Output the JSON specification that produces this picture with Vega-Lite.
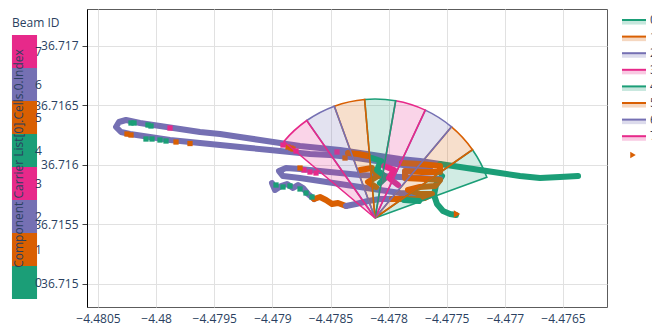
{
  "$schema": "https://vega.github.io/schema/vega-lite/v6.json",
  "width": 520,
  "height": 298,
  "autosize": {"type": "none"},
  "padding": {"left": 87, "top": 9, "right": 45, "bottom": 19},
  "background": "white",
  "config": {
    "view": {"stroke": "#5c5c5c", "strokeWidth": 1},
    "font": "Open Sans",
    "axis": {"labelFont": "Open Sans", "labelFontSize": 12, "labelColor": "#2a3f5f", "titleFont": "Open Sans", "titleFontSize": 12, "titleFontWeight": "normal", "titleColor": "#2a3f5f", "gridColor": "#e1e1e1", "gridWidth": 1},
    "legend": {"labelFont": "Open Sans", "labelFontSize": 12, "labelColor": "#2a3f5f", "titleFont": "Open Sans", "titleFontSize": 12, "titleFontWeight": "normal", "titleColor": "#2a3f5f", "padding": 0}
  },
  "datasets": {
    "track": [
      {"seg": 1, "i": 0, "beam": 6, "lon": -4.4776441, "lat": 36.7159747},
      {"seg": 1, "i": 1, "beam": 6, "lon": -4.4778161, "lat": 36.7159915},
      {"seg": 1, "i": 2, "beam": 6, "lon": -4.4779881, "lat": 36.7160168},
      {"seg": 1, "i": 3, "beam": 6, "lon": -4.4781602, "lat": 36.7160420},
      {"seg": 1, "i": 4, "beam": 6, "lon": -4.4783322, "lat": 36.7160672},
      {"seg": 1, "i": 5, "beam": 6, "lon": -4.4785043, "lat": 36.7160840},
      {"seg": 1, "i": 6, "beam": 6, "lon": -4.4786763, "lat": 36.7160924},
      {"seg": 1, "i": 7, "beam": 6, "lon": -4.4788484, "lat": 36.7161092},
      {"seg": 1, "i": 8, "beam": 6, "lon": -4.4790204, "lat": 36.7161260},
      {"seg": 1, "i": 9, "beam": 6, "lon": -4.4791924, "lat": 36.7161428},
      {"seg": 1, "i": 10, "beam": 6, "lon": -4.4793645, "lat": 36.7161596},
      {"seg": 1, "i": 11, "beam": 6, "lon": -4.4795365, "lat": 36.7161764},
      {"seg": 1, "i": 12, "beam": 6, "lon": -4.4797086, "lat": 36.7161932},
      {"seg": 1, "i": 13, "beam": 6, "lon": -4.4798806, "lat": 36.7162100},
      {"seg": 1, "i": 14, "beam": 6, "lon": -4.4800527, "lat": 36.7162352},
      {"seg": 1, "i": 15, "beam": 6, "lon": -4.4802247, "lat": 36.7162604},
      {"seg": 1, "i": 16, "beam": 6, "lon": -4.4803021, "lat": 36.7162773},
      {"seg": 1, "i": 17, "beam": 6, "lon": -4.4803451, "lat": 36.7163193},
      {"seg": 1, "i": 18, "beam": 6, "lon": -4.4803193, "lat": 36.7163613},
      {"seg": 1, "i": 19, "beam": 6, "lon": -4.4802591, "lat": 36.7163781},
      {"seg": 1, "i": 20, "beam": 6, "lon": -4.4801387, "lat": 36.7163529},
      {"seg": 1, "i": 21, "beam": 6, "lon": -4.4799667, "lat": 36.7163277},
      {"seg": 1, "i": 22, "beam": 6, "lon": -4.4797946, "lat": 36.7163025},
      {"seg": 1, "i": 23, "beam": 6, "lon": -4.4796226, "lat": 36.7162773},
      {"seg": 1, "i": 24, "beam": 6, "lon": -4.4794505, "lat": 36.7162604},
      {"seg": 1, "i": 25, "beam": 6, "lon": -4.4792785, "lat": 36.7162352},
      {"seg": 1, "i": 26, "beam": 6, "lon": -4.4791064, "lat": 36.7162100},
      {"seg": 1, "i": 27, "beam": 6, "lon": -4.4789344, "lat": 36.7161848},
      {"seg": 1, "i": 28, "beam": 6, "lon": -4.4787623, "lat": 36.7161596},
      {"seg": 1, "i": 29, "beam": 6, "lon": -4.4785903, "lat": 36.7161428},
      {"seg": 1, "i": 30, "beam": 6, "lon": -4.4784183, "lat": 36.7161260},
      {"seg": 1, "i": 31, "beam": 6, "lon": -4.4782462, "lat": 36.7161008},
      {"seg": 1, "i": 32, "beam": 6, "lon": -4.4780742, "lat": 36.7160756},
      {"seg": 1, "i": 33, "beam": 6, "lon": -4.4779021, "lat": 36.7160504},
      {"seg": 1, "i": 34, "beam": 6, "lon": -4.4777301, "lat": 36.7160336},
      {"seg": 1, "i": 35, "beam": 6, "lon": -4.4775580, "lat": 36.7160083},
      {"seg": 2, "i": 0, "beam": 0, "lon": -4.4775580, "lat": 36.7160083},
      {"seg": 2, "i": 1, "beam": 0, "lon": -4.4773860, "lat": 36.7159831},
      {"seg": 2, "i": 2, "beam": 0, "lon": -4.4772139, "lat": 36.7159579},
      {"seg": 2, "i": 3, "beam": 0, "lon": -4.4770419, "lat": 36.7159327},
      {"seg": 2, "i": 4, "beam": 0, "lon": -4.4768699, "lat": 36.7159075},
      {"seg": 2, "i": 5, "beam": 0, "lon": -4.4766978, "lat": 36.7158907},
      {"seg": 2, "i": 6, "beam": 0, "lon": -4.4765258, "lat": 36.7158991},
      {"seg": 2, "i": 7, "beam": 0, "lon": -4.4763709, "lat": 36.7159075},
      {"seg": 3, "i": 0, "beam": 0, "lon": -4.4775408, "lat": 36.7159075},
      {"seg": 3, "i": 1, "beam": 0, "lon": -4.4775924, "lat": 36.7158319},
      {"seg": 3, "i": 2, "beam": 0, "lon": -4.4776097, "lat": 36.7157479},
      {"seg": 3, "i": 3, "beam": 0, "lon": -4.4775838, "lat": 36.7156723},
      {"seg": 3, "i": 4, "beam": 0, "lon": -4.4775322, "lat": 36.7156134},
      {"seg": 3, "i": 5, "beam": 0, "lon": -4.4774720, "lat": 36.7155882},
      {"seg": 3, "i": 6, "beam": 0, "lon": -4.4774204, "lat": 36.7155799},
      {"seg": 4, "i": 0, "beam": 2, "lon": -4.4775580, "lat": 36.7158823},
      {"seg": 4, "i": 1, "beam": 2, "lon": -4.4777301, "lat": 36.7158907},
      {"seg": 4, "i": 2, "beam": 2, "lon": -4.4779021, "lat": 36.7158991},
      {"seg": 4, "i": 3, "beam": 2, "lon": -4.4780742, "lat": 36.7159075},
      {"seg": 4, "i": 4, "beam": 2, "lon": -4.4782462, "lat": 36.7159159},
      {"seg": 4, "i": 5, "beam": 2, "lon": -4.4784183, "lat": 36.7159327},
      {"seg": 4, "i": 6, "beam": 2, "lon": -4.4785903, "lat": 36.7159495},
      {"seg": 4, "i": 7, "beam": 2, "lon": -4.4787623, "lat": 36.7159663},
      {"seg": 4, "i": 8, "beam": 2, "lon": -4.4788828, "lat": 36.7159747},
      {"seg": 4, "i": 9, "beam": 2, "lon": -4.4789430, "lat": 36.7159495},
      {"seg": 4, "i": 10, "beam": 2, "lon": -4.4789086, "lat": 36.7159075},
      {"seg": 4, "i": 11, "beam": 2, "lon": -4.4787623, "lat": 36.7158907},
      {"seg": 4, "i": 12, "beam": 2, "lon": -4.4785903, "lat": 36.7158655},
      {"seg": 4, "i": 13, "beam": 2, "lon": -4.4784183, "lat": 36.7158403},
      {"seg": 4, "i": 14, "beam": 2, "lon": -4.4782462, "lat": 36.7158151},
      {"seg": 4, "i": 15, "beam": 2, "lon": -4.4780742, "lat": 36.7157899},
      {"seg": 4, "i": 16, "beam": 2, "lon": -4.4779021, "lat": 36.7157647},
      {"seg": 4, "i": 17, "beam": 2, "lon": -4.4777473, "lat": 36.7157563},
      {"seg": 5, "i": 0, "beam": 6, "lon": -4.4790032, "lat": 36.7158487},
      {"seg": 5, "i": 1, "beam": 6, "lon": -4.4789774, "lat": 36.7157899},
      {"seg": 5, "i": 2, "beam": 6, "lon": -4.4789258, "lat": 36.7158235},
      {"seg": 5, "i": 3, "beam": 6, "lon": -4.4788742, "lat": 36.7158403},
      {"seg": 5, "i": 4, "beam": 6, "lon": -4.4788226, "lat": 36.7158067},
      {"seg": 5, "i": 5, "beam": 6, "lon": -4.4787795, "lat": 36.7158319},
      {"seg": 5, "i": 6, "beam": 6, "lon": -4.4787365, "lat": 36.7158067},
      {"seg": 5, "i": 7, "beam": 6, "lon": -4.4786935, "lat": 36.7157563},
      {"seg": 5, "i": 8, "beam": 6, "lon": -4.4786419, "lat": 36.7157143},
      {"seg": 6, "i": 0, "beam": 5, "lon": -4.4786419, "lat": 36.7157143},
      {"seg": 6, "i": 1, "beam": 5, "lon": -4.4785903, "lat": 36.7157311},
      {"seg": 6, "i": 2, "beam": 5, "lon": -4.4785387, "lat": 36.7157059},
      {"seg": 6, "i": 3, "beam": 5, "lon": -4.4784871, "lat": 36.7156723},
      {"seg": 6, "i": 4, "beam": 5, "lon": -4.4784355, "lat": 36.7156807},
      {"seg": 6, "i": 5, "beam": 5, "lon": -4.4783666, "lat": 36.7156555},
      {"seg": 7, "i": 0, "beam": 2, "lon": -4.4783666, "lat": 36.7156555},
      {"seg": 7, "i": 1, "beam": 2, "lon": -4.4782806, "lat": 36.7156723},
      {"seg": 7, "i": 2, "beam": 2, "lon": -4.4781774, "lat": 36.7156974},
      {"seg": 7, "i": 3, "beam": 2, "lon": -4.4780742, "lat": 36.7157143},
      {"seg": 7, "i": 4, "beam": 2, "lon": -4.4779709, "lat": 36.7157143},
      {"seg": 8, "i": 0, "beam": 5, "lon": -4.4783494, "lat": 36.7161008},
      {"seg": 8, "i": 1, "beam": 5, "lon": -4.4782634, "lat": 36.7160924},
      {"seg": 8, "i": 2, "beam": 5, "lon": -4.4781774, "lat": 36.7160756},
      {"seg": 9, "i": 0, "beam": 1, "lon": -4.4782462, "lat": 36.7159579},
      {"seg": 9, "i": 1, "beam": 1, "lon": -4.4781430, "lat": 36.7159747},
      {"seg": 9, "i": 2, "beam": 1, "lon": -4.4780914, "lat": 36.7159075},
      {"seg": 9, "i": 3, "beam": 1, "lon": -4.4781774, "lat": 36.7158571},
      {"seg": 9, "i": 4, "beam": 1, "lon": -4.4781086, "lat": 36.7158151},
      {"seg": 10, "i": 0, "beam": 1, "lon": -4.4778849, "lat": 36.7160168},
      {"seg": 10, "i": 1, "beam": 1, "lon": -4.4777301, "lat": 36.7160083},
      {"seg": 10, "i": 2, "beam": 1, "lon": -4.4775580, "lat": 36.7159915},
      {"seg": 10, "i": 3, "beam": 1, "lon": -4.4775580, "lat": 36.7159411},
      {"seg": 10, "i": 4, "beam": 1, "lon": -4.4777129, "lat": 36.7159411},
      {"seg": 10, "i": 5, "beam": 1, "lon": -4.4778591, "lat": 36.7159495},
      {"seg": 10, "i": 6, "beam": 1, "lon": -4.4778591, "lat": 36.7158907},
      {"seg": 10, "i": 7, "beam": 1, "lon": -4.4776871, "lat": 36.7158823},
      {"seg": 10, "i": 8, "beam": 1, "lon": -4.4775580, "lat": 36.7158739},
      {"seg": 10, "i": 9, "beam": 1, "lon": -4.4776010, "lat": 36.7158235},
      {"seg": 10, "i": 10, "beam": 1, "lon": -4.4777301, "lat": 36.7158151},
      {"seg": 10, "i": 11, "beam": 1, "lon": -4.4778333, "lat": 36.7157899},
      {"seg": 10, "i": 12, "beam": 1, "lon": -4.4777301, "lat": 36.7157563},
      {"seg": 10, "i": 13, "beam": 1, "lon": -4.4776269, "lat": 36.7157563},
      {"seg": 10, "i": 14, "beam": 1, "lon": -4.4776871, "lat": 36.7157227},
      {"seg": 10, "i": 15, "beam": 1, "lon": -4.4778161, "lat": 36.7157143},
      {"seg": 10, "i": 16, "beam": 1, "lon": -4.4779709, "lat": 36.7157143},
      {"seg": 11, "i": 0, "beam": 4, "lon": -4.4781430, "lat": 36.7160588},
      {"seg": 11, "i": 1, "beam": 4, "lon": -4.4780656, "lat": 36.7160336},
      {"seg": 11, "i": 2, "beam": 4, "lon": -4.4781000, "lat": 36.7159579},
      {"seg": 11, "i": 3, "beam": 4, "lon": -4.4780226, "lat": 36.7158991},
      {"seg": 11, "i": 4, "beam": 4, "lon": -4.4780742, "lat": 36.7158487},
      {"seg": 12, "i": 0, "beam": 3, "lon": -4.4780398, "lat": 36.7159915},
      {"seg": 12, "i": 1, "beam": 3, "lon": -4.4779537, "lat": 36.7159579},
      {"seg": 12, "i": 2, "beam": 3, "lon": -4.4779967, "lat": 36.7158907},
      {"seg": 12, "i": 3, "beam": 3, "lon": -4.4779193, "lat": 36.7158319},
      {"seg": 13, "i": 0, "beam": 0, "lon": -4.4778677, "lat": 36.7157059},
      {"seg": 13, "i": 1, "beam": 0, "lon": -4.4777387, "lat": 36.7156974}
    ],
    "spots": [
      {"beam": 0, "lon": -4.4802161, "lat": 36.7163529},
      {"beam": 0, "lon": -4.4801903, "lat": 36.7163529},
      {"beam": 0, "lon": -4.4800699, "lat": 36.7163361},
      {"beam": 0, "lon": -4.4800441, "lat": 36.7163277},
      {"beam": 0, "lon": -4.4800871, "lat": 36.7162184},
      {"beam": 0, "lon": -4.4800355, "lat": 36.7162184},
      {"beam": 0, "lon": -4.4799667, "lat": 36.7162100},
      {"beam": 0, "lon": -4.4799150, "lat": 36.7162016},
      {"beam": 1, "lon": -4.4802505, "lat": 36.7162604},
      {"beam": 1, "lon": -4.4802161, "lat": 36.7162520},
      {"beam": 1, "lon": -4.4798290, "lat": 36.7161932},
      {"beam": 1, "lon": -4.4797086, "lat": 36.7161806},
      {"beam": 1, "lon": -4.4788656, "lat": 36.7161512},
      {"beam": 1, "lon": -4.4788398, "lat": 36.7161428},
      {"beam": 1, "lon": -4.4788226, "lat": 36.7161344},
      {"beam": 3, "lon": -4.4798806, "lat": 36.7163109},
      {"beam": 3, "lon": -4.4789086, "lat": 36.7161680},
      {"beam": 3, "lon": -4.4787279, "lat": 36.7159579},
      {"beam": 3, "lon": -4.4786763, "lat": 36.7159411},
      {"beam": 3, "lon": -4.4786247, "lat": 36.7159327},
      {"beam": 3, "lon": -4.4784441, "lat": 36.7161092},
      {"beam": 3, "lon": -4.4787968, "lat": 36.7161176},
      {"beam": 4, "lon": -4.4789688, "lat": 36.7158319},
      {"beam": 4, "lon": -4.4789086, "lat": 36.7158151},
      {"beam": 4, "lon": -4.4788484, "lat": 36.7158235},
      {"beam": 4, "lon": -4.4787623, "lat": 36.7157983},
      {"beam": 4, "lon": -4.4787107, "lat": 36.7157647},
      {"beam": 4, "lon": -4.4786591, "lat": 36.7157311},
      {"beam": 5, "lon": -4.4787623, "lat": 36.7159747},
      {"beam": 5, "lon": -4.4783752, "lat": 36.7160588}
    ],
    "fan": [
      {"beam": 0, "name": "0", "lon": -4.4781172, "lat": 36.7155547, "a0": 55, "a1": 70},
      {"beam": 1, "name": "1", "lon": -4.4781172, "lat": 36.7155547, "a0": 40, "a1": 55},
      {"beam": 2, "name": "2", "lon": -4.4781172, "lat": 36.7155547, "a0": 25, "a1": 40},
      {"beam": 3, "name": "3", "lon": -4.4781172, "lat": 36.7155547, "a0": 10, "a1": 25},
      {"beam": 4, "name": "4", "lon": -4.4781172, "lat": 36.7155547, "a0": -5, "a1": 10},
      {"beam": 5, "name": "5", "lon": -4.4781172, "lat": 36.7155547, "a0": -20, "a1": -5},
      {"beam": 6, "name": "6", "lon": -4.4781172, "lat": 36.7155547, "a0": -35, "a1": -20},
      {"beam": 7, "name": "7", "lon": -4.4781172, "lat": 36.7155547, "a0": -50, "a1": -35}
    ],
    "pos": [
      {"kind": "current position", "lon": -4.4774118, "lat": 36.7155882}
    ]
  },
  "layer": [
    {
      "data": {"name": "track"},
      "mark": {"type": "line", "strokeWidth": 6, "strokeCap": "round", "strokeJoin": "round"},
      "encoding": {
        "x": {"field": "lon", "type": "quantitative", "scale": {"domain": [-4.4805946, -4.4761216], "nice": false, "zero": false}},
        "y": {"field": "lat", "type": "quantitative", "scale": {"domain": [36.7148067, 36.7173109], "nice": false, "zero": false},
          "axis": {"orient": "right", "labels": false, "ticks": false, "domain": false, "grid": false, "zindex": 1,
            "title": "Component Carrier List[0].Cells.0.Index", "titleAngle": 270, "titleAlign": "center", "titleBaseline": "middle", "titleX": -589, "titleY": 149}},
        "detail": {"field": "seg"},
        "order": {"field": "i"},
        "color": {"field": "beam", "type": "ordinal",
          "scale": {"domain": [7, 6, 5, 4, 3, 2, 1, 0], "range": ["#e7298a", "#7570b3", "#d95f02", "#1b9e77", "#e7298a", "#7570b3", "#d95f02", "#1b9e77"]},
          "legend": {"orient": "none", "legendX": -75, "legendY": 9, "title": "Beam ID", "titlePadding": 5,
            "symbolType": "M-0.76,-1H0.76V1H-0.76Z", "symbolSize": 1089, "symbolStrokeWidth": 0, "symbolOffset": -4,
            "labelOffset": -6, "rowPadding": 0,
            "encode": {"symbols": {"update": {"fill": {"scale": "color", "field": "value"}, "stroke": {"value": "transparent"}, "opacity": {"value": 1}, "fillOpacity": {"value": 1}}}}}}
      }
    },
    {
      "data": {"name": "spots"},
      "mark": {"type": "point", "shape": "square", "size": 28, "filled": true, "opacity": 1},
      "encoding": {
        "x": {"field": "lon", "type": "quantitative", "scale": {"domain": [-4.4805946, -4.4761216], "nice": false, "zero": false},
          "axis": {"orient": "bottom", "values": [-4.4805, -4.48, -4.4795, -4.479, -4.4785, -4.478, -4.4775, -4.477, -4.4765], "format": "~g", "ticks": false, "domain": false, "labelPadding": 6, "title": null, "grid": true}},
        "y": {"field": "lat", "type": "quantitative", "scale": {"domain": [36.7148067, 36.7173109], "nice": false, "zero": false},
          "axis": {"orient": "left", "values": [36.715, 36.7155, 36.716, 36.7165, 36.717], "format": "~g", "ticks": true, "tickSize": 5, "tickColor": "#444444", "domain": true, "domainColor": "#000000", "labelPadding": 4, "title": null, "grid": true}},
        "color": {"field": "beam", "type": "ordinal", "legend": null}
      }
    },
    {
      "data": {"name": "fan"},
      "mark": {"type": "arc", "radius": 119, "fillOpacity": 0.2, "strokeWidth": 1.6},
      "encoding": {
        "x": {"field": "lon", "type": "quantitative"},
        "y": {"field": "lat", "type": "quantitative", "axis": null},
        "theta": {"field": "a0", "type": "quantitative", "scale": {"domain": [0, 360]}, "stack": null},
        "theta2": {"field": "a1"},
        "fill": {"field": "beam", "type": "nominal",
          "scale": {"domain": [0, 1, 2, 3, 4, 5, 6, 7], "range": ["#1b9e77", "#d95f02", "#7570b3", "#e7298a", "#1b9e77", "#d95f02", "#7570b3", "#e7298a"]},
          "legend": {"orient": "none", "legendX": 540, "legendY": 4, "title": null,
            "symbolType": "M-1.714,0H1.714V0.65H-1.714Z", "symbolSize": 196, "symbolStrokeWidth": 0,
            "rowPadding": 3.6, "labelOffset": 9, "labelOpacity": 0,
            "encode": {"symbols": {"update": {"fill": {"scale": "fill", "field": "value"}, "fillOpacity": {"value": 0.25}, "opacity": {"value": 1}, "stroke": {"value": "transparent"}}}}}},
        "stroke": {"field": "name", "type": "nominal",
          "scale": {"domain": ["0", "1", "2", "3", "4", "5", "6", "7"], "range": ["#1b9e77", "#d95f02", "#7570b3", "#e7298a", "#1b9e77", "#d95f02", "#7570b3", "#e7298a"]},
          "legend": {"orient": "none", "legendX": 540, "legendY": 4, "title": null,
            "symbolType": "M-2,0H2", "symbolSize": 144, "symbolStrokeWidth": 2,
            "rowPadding": 3.6, "labelOffset": 9,
            "encode": {"symbols": {"update": {"stroke": {"scale": "stroke", "field": "value"}, "fill": {"value": "transparent"}, "opacity": {"value": 1}, "strokeOpacity": {"value": 1}}}}}}
      }
    },
    {
      "data": {"name": "pos"},
      "mark": {"type": "point", "filled": true, "size": 55, "color": "#d95f02", "opacity": 1},
      "encoding": {
        "x": {"field": "lon", "type": "quantitative"},
        "y": {"field": "lat", "type": "quantitative", "axis": null},
        "shape": {"field": "kind", "type": "nominal", "scale": {"range": ["triangle-right"]},
          "legend": {"orient": "none", "legendX": 540, "legendY": 140, "title": null, "symbolSize": 40, "symbolStrokeWidth": 0, "labelOpacity": 0,
            "encode": {"symbols": {"update": {"fill": {"value": "#d95f02"}, "opacity": {"value": 1}}}}}}
      }
    }
  ]
}
